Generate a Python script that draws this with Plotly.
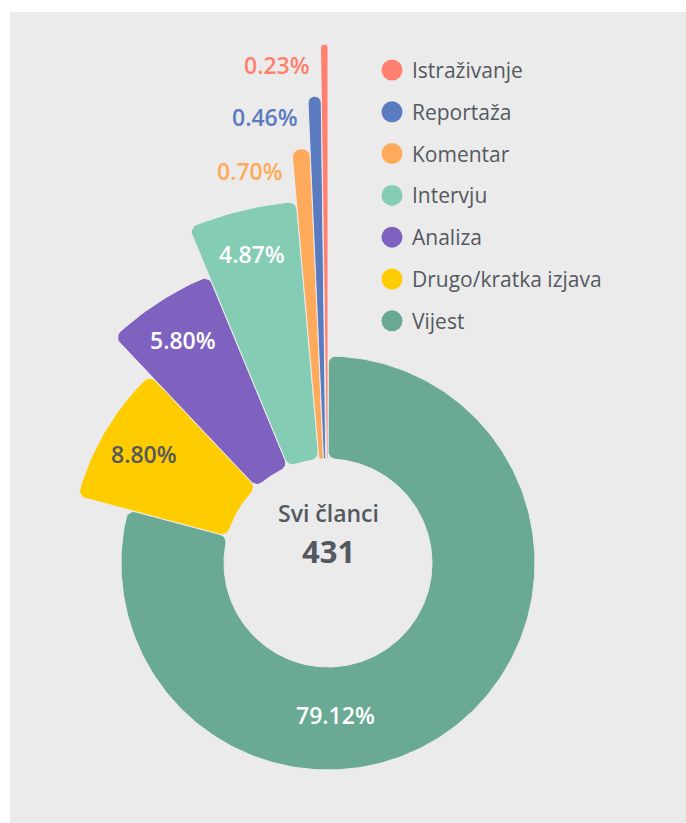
import math
import plotly.graph_objects as go

# ---------------- data ----------------
categories = ["Vijest", "Drugo/kratka izjava", "Analiza", "Intervju",
              "Komentar", "Reportaža", "Istraživanje"]
percentages = [79.12, 8.80, 5.80, 4.87, 0.70, 0.46, 0.23]
total_articles = 431
center_title = "Svi članci"

colors = ["#6aaa95", "#ffcc00", "#7f62bf", "#84cdb4",
          "#ffaa5a", "#5b7bc0", "#ff806e"]

# ---------------- styling / geometry ----------------
W, H = 686, 823
CX, CY = 328, 563          # chart centre in pixels
R_IN = 104
R_FIRST = 207
R_STEP = 52
CORNER = 8
BG = "#ebebeb"
TEXT = "#54595f"
FONT = "Open Sans"

total = sum(percentages)
spans = [p / total * 360.0 for p in percentages]
starts = []
acc = 0.0
for s in spans:
    starts.append(acc)
    acc += s
outer = [R_FIRST + R_STEP * i for i in range(len(categories))]


def polar_pt(rho, phi):
    a = math.radians(phi)
    return (rho * math.sin(a), rho * math.cos(a))


def circ_pts(cx, cy, p, q, n=6):
    a0 = math.atan2(p[1] - cy, p[0] - cx)
    a1 = math.atan2(q[1] - cy, q[0] - cx)
    d = (a1 - a0 + math.pi) % (2 * math.pi) - math.pi
    rad = math.hypot(p[0] - cx, p[1] - cy)
    return [(cx + rad * math.cos(a0 + d * k / n), cy + rad * math.sin(a0 + d * k / n))
            for k in range(n + 1)]


def arc_pts(rho, a0, a1):
    n = max(2, int(abs(a1 - a0) / 1.0) + 1)
    return [polar_pt(rho, a0 + (a1 - a0) * k / n) for k in range(n + 1)]


def sector(r, R, p0, p1, c):
    w = p1 - p0
    s = math.sin(math.radians(min(w, 180.0) / 2))
    co = min(c, R * s / (1 + s), (R - r) / 2)
    ci = min(c, r * s / (1 - s) if s < 0.999 else c, (R - r) / 2)
    do = math.degrees(math.asin(co / (R - co)))
    di = math.degrees(math.asin(ci / (r + ci)))
    eo = math.sqrt((R - co) ** 2 - co ** 2)
    ei = math.sqrt((r + ci) ** 2 - ci ** 2)
    pts = []
    C = polar_pt(r + ci, p0 + di)
    pts += circ_pts(C[0], C[1], polar_pt(r, p0 + di), polar_pt(ei, p0))
    C = polar_pt(R - co, p0 + do)
    pts += circ_pts(C[0], C[1], polar_pt(eo, p0), polar_pt(R, p0 + do))
    pts += arc_pts(R, p0 + do, p1 - do)
    C = polar_pt(R - co, p1 - do)
    pts += circ_pts(C[0], C[1], polar_pt(R, p1 - do), polar_pt(eo, p1))
    C = polar_pt(r + ci, p1 - di)
    pts += circ_pts(C[0], C[1], polar_pt(ei, p1), polar_pt(r, p1 - di))
    pts += arc_pts(r, p1 - di, p0 + di)
    pts.append(pts[0])
    return [p[0] for p in pts], [p[1] for p in pts]


fig = go.Figure()
annotations = []

for i, cat in enumerate(categories):
    p0, p1 = starts[i], starts[i] + spans[i]
    xs, ys = sector(R_IN, outer[i], p0, p1, CORNER)
    fig.add_trace(go.Scatter(
        x=xs, y=ys, mode="lines", fill="toself", fillcolor=colors[i],
        line=dict(color=BG, width=1), name=cat, showlegend=False,
        hoveron="fills", text=f"{cat}: {percentages[i]:.2f}%", hoverinfo="text"))

    label = f"{percentages[i]:.2f}%"
    if percentages[i] >= 1:
        if spans[i] > 180:
            phi = 177.0
            rho = (R_IN + outer[i]) / 2 - 3
        else:
            phi = p0 + spans[i] / 2
            rho = outer[i] - 45
        lx, ly = polar_pt(rho, phi)
        tcolor = TEXT if colors[i] == "#ffcc00" else "#ffffff"
        annotations.append(dict(x=lx, y=ly, xref="x", yref="y", text=label,
                                showarrow=False, xanchor="center", yanchor="middle",
                                font=dict(family=FONT, size=23, color=tcolor, weight=600)))
    else:
        lx, ly = polar_pt(outer[i] - 21, p0)
        annotations.append(dict(x=lx, y=ly, xref="x", yref="y", text=label,
                                showarrow=False, xanchor="right", yanchor="middle",
                                xshift=-9,
                                font=dict(family=FONT, size=23, color=colors[i], weight=600)))

# centre text
annotations.append(dict(x=0, y=CY - 513, xref="x", yref="y", text=center_title,
                        showarrow=False, xanchor="center", yanchor="middle",
                        font=dict(family=FONT, size=23, color=TEXT, weight=600)))
annotations.append(dict(x=0, y=CY - 551, xref="x", yref="y", text=str(total_articles),
                        showarrow=False, xanchor="center", yanchor="middle",
                        font=dict(family=FONT, size=31, color=TEXT, weight=700)))

# custom legend (reverse order)
leg_cats = categories[::-1]
leg_cols = colors[::-1]
leg_y = [CY - (70 + 41.8 * k) for k in range(len(leg_cats))]
fig.add_trace(go.Scatter(
    x=[392 - CX] * len(leg_cats), y=leg_y, mode="markers",
    marker=dict(size=21, color=leg_cols, line=dict(width=0)),
    showlegend=False, hoverinfo="skip"))
for k, cat in enumerate(leg_cats):
    annotations.append(dict(x=410 - CX, y=leg_y[k], xref="x", yref="y", text=cat,
                            showarrow=False, xanchor="left", yanchor="middle",
                            font=dict(family=FONT, size=21, color=TEXT)))

fig.update_layout(
    width=W, height=H, autosize=False,
    margin=dict(l=0, r=0, t=0, b=0, pad=0),
    paper_bgcolor=BG, plot_bgcolor="rgba(0,0,0,0)",
    xaxis=dict(range=[-CX, W - CX], visible=False, fixedrange=True),
    yaxis=dict(range=[-(H - CY), CY], visible=False, fixedrange=True),
    showlegend=False,
    annotations=annotations,
    shapes=[
        dict(type="rect", xref="paper", yref="paper",
             x0=0, x1=1, y0=1 - 12 / H, y1=1,
             fillcolor="#ffffff", line=dict(width=0), layer="below"),
        dict(type="rect", xref="paper", yref="paper",
             x0=0, x1=10 / W, y0=0, y1=1,
             fillcolor="#ffffff", line=dict(width=0), layer="below"),
    ],
    hoverlabel=dict(font=dict(family=FONT)),
)

fig.write_html("out.html",
               config={"displayModeBar": False},
               post_script="document.body.style.margin='0';document.body.style.overflow='hidden';document.body.style.background='#ebebeb';")
